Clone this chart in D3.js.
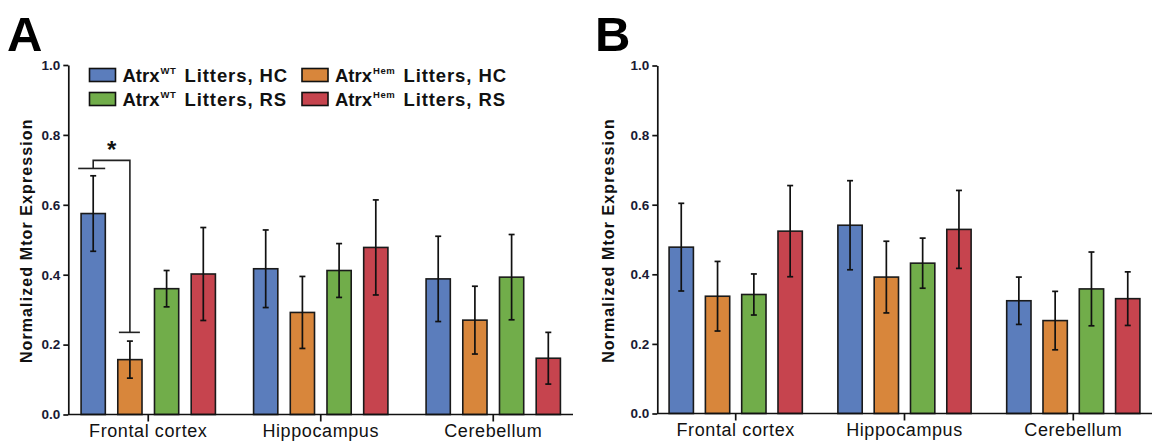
<!DOCTYPE html>
<html>
<head>
<meta charset="utf-8">
<script src="https://cdn.jsdelivr.net/npm/d3@7"></script>
<style>
  html, body { margin: 0; padding: 0; background: #fff; }
  svg { display: block; font-family: "Liberation Sans", Arial, sans-serif; }
</style>
</head>
<body>
<svg id="chart" width="1152" height="445"></svg>
<script>
// Brain regions on the x axis
const regions = ["Frontal cortex", "Hippocampus", "Cerebellum"];

// Groups: genotype superscript and housing condition
const groupKeys = ["wtHC", "hemHC", "wtRS", "hemRS"];
const groupGenotype = ["WT", "Hem", "WT", "Hem"];
const groupCondition = ["HC", "HC", "RS", "RS"];
const groupColors = ["#5b7dbc", "#d8863b", "#71ad4a", "#c6444e"];

// Panel A: mean normalized Mtor expression per region (rows) and group (columns)
const meansA = [
  [0.575, 0.157, 0.360, 0.402],
  [0.417, 0.292, 0.412, 0.478],
  [0.388, 0.270, 0.393, 0.161]
];
const errorsA = [
  [0.108, 0.053, 0.052, 0.133],
  [0.111, 0.103, 0.077, 0.136],
  [0.122, 0.097, 0.122, 0.074]
];

// Panel B: mean normalized Mtor expression per region and group
const meansB = [
  [0.478, 0.337, 0.342, 0.524],
  [0.541, 0.392, 0.432, 0.529],
  [0.324, 0.267, 0.358, 0.330]
];
const errorsB = [
  [0.126, 0.100, 0.059, 0.131],
  [0.128, 0.103, 0.072, 0.112],
  [0.068, 0.084, 0.106, 0.077]
];

const yTicks = [0.0, 0.2, 0.4, 0.6, 0.8, 1.0];
const yTitle = "Normalized Mtor Expression";

// Significance bracket in panel A (frontal cortex, WT HC vs Hem HC)
const sigTop = 0.727, sigLeftCap = 0.704, sigRightCap = 0.235, sigLabel = "*";

const svg = d3.select("#chart");

function drawPanel(cfg) {
  const g = svg.append("g");
  const y = d3.scaleLinear().domain([0, 1]).range([cfg.yBottom, cfg.yTop]);
  const x0 = d3.scaleBand().domain(regions).range(cfg.xRange).padding(0);
  const inner = cfg.innerStep * groupKeys.length;
  const x1 = d3.scaleBand().domain(groupKeys).range([-inner / 2, inner / 2])
    .paddingInner(cfg.innerPad).paddingOuter(cfg.innerPad / 2);

  // panel letter
  g.append("text").attr("x", cfg.letterX).attr("y", 51)
    .attr("font-size", 49).attr("font-weight", "bold").attr("fill", "#000")
    .text(cfg.letter);

  // bars
  const cells = [];
  regions.forEach((r, i) => groupKeys.forEach((k, j) => {
    cells.push({ region: r, key: k, color: groupColors[j], mean: cfg.means[i][j], err: cfg.errors[i][j] });
  }));
  const cx = d => x0(d.region) + x0.bandwidth() / 2 + x1(d.key) + x1.bandwidth() / 2;

  g.selectAll("rect.bar").data(cells).join("rect").attr("class", "bar")
    .attr("x", d => cx(d) - x1.bandwidth() / 2)
    .attr("width", x1.bandwidth())
    .attr("y", d => y(d.mean))
    .attr("height", d => y(0) - y(d.mean))
    .attr("fill", d => d.color)
    .attr("stroke", "#1a1a1a").attr("stroke-width", 1.6);

  // error bars
  const eb = g.selectAll("g.err").data(cells).join("g").attr("class", "err")
    .attr("stroke", "#111").attr("stroke-width", 1.7);
  eb.append("line").attr("x1", cx).attr("x2", cx)
    .attr("y1", d => y(d.mean + d.err)).attr("y2", d => y(d.mean - d.err));
  eb.append("line").attr("x1", d => cx(d) - 3).attr("x2", d => cx(d) + 3)
    .attr("y1", d => y(d.mean + d.err)).attr("y2", d => y(d.mean + d.err));
  eb.append("line").attr("x1", d => cx(d) - 3).attr("x2", d => cx(d) + 3)
    .attr("y1", d => y(d.mean - d.err)).attr("y2", d => y(d.mean - d.err));

  // y axis
  const yAxis = g.append("g").attr("transform", `translate(${cfg.axisX},0)`)
    .call(d3.axisLeft(y).tickValues(yTicks).tickFormat(d3.format(".1f"))
      .tickSize(5).tickSizeOuter(0).tickPadding(3));
  yAxis.select(".domain").attr("stroke", "#111").attr("stroke-width", 1.7);
  yAxis.selectAll(".tick line").attr("stroke", "#111").attr("stroke-width", 1.7);
  yAxis.selectAll(".tick text").attr("font-size", 13.5).attr("font-weight", "bold")
    .attr("font-family", "Liberation Sans, Arial, sans-serif").attr("fill", "#1a1a33");

  // x axis
  const xAxis = g.append("g").attr("transform", `translate(0,${cfg.yBottom})`)
    .call(d3.axisBottom(x0).tickSize(7).tickSizeOuter(0).tickPadding(4));
  xAxis.select(".domain").remove();
  xAxis.insert("line", ":first-child").attr("x1", cfg.axisX).attr("x2", cfg.axisEnd)
    .attr("y1", 0).attr("y2", 0).attr("stroke", "#111").attr("stroke-width", 1.7);
  xAxis.selectAll(".tick line").attr("stroke", "#111").attr("stroke-width", 1.7);
  xAxis.selectAll(".tick text").attr("font-size", 18).attr("dy", "0.64em")
    .attr("font-family", "Liberation Sans, Arial, sans-serif")
    .attr("letter-spacing", 0.6).attr("fill", "#111");

  // y title
  g.append("text")
    .attr("transform", `translate(${cfg.titleX},${(cfg.yTop + cfg.yBottom) / 2 + 1}) rotate(-90)`)
    .attr("text-anchor", "middle").attr("font-size", 16).attr("font-weight", "bold")
    .attr("letter-spacing", 1.1).attr("fill", "#111").text(yTitle);

  return { g, x0, x1, y, cx };
}

const A = drawPanel({
  letter: "A", letterX: 7, means: meansA, errors: errorsA,
  yTop: 65, yBottom: 414.5, xRange: [62, 579.5], innerStep: 36.7, innerPad: 0.34,
  axisX: 68.3, axisEnd: 573, titleX: 32
});
drawPanel({
  letter: "B", letterX: 595, means: meansB, errors: errorsB,
  yTop: 65.5, yBottom: 413.5, xRange: [651.3, 1157.7], innerStep: 36.3, innerPad: 0.33,
  axisX: 657.3, axisEnd: 1152, titleX: 614
});

// significance bracket between the first two groups of the first region
(function () {
  const { g, y, cx } = A;
  const left = cx({ region: regions[0], key: groupKeys[0] });
  const right = cx({ region: regions[0], key: groupKeys[1] });
  const b = g.append("g").attr("stroke", "#222").attr("stroke-width", 1.6).attr("fill", "none");
  b.append("path").attr("d",
    `M${left},${y(sigLeftCap)}V${y(sigTop)}H${right}V${y(sigRightCap)}`);
  b.append("line").attr("x1", left - 15).attr("x2", left + 12)
    .attr("y1", y(sigLeftCap)).attr("y2", y(sigLeftCap));
  b.append("line").attr("x1", right - 11).attr("x2", right + 10)
    .attr("y1", y(sigRightCap)).attr("y2", y(sigRightCap));
  g.append("text").attr("x", (left + right) / 2).attr("y", y(sigTop) - 2)
    .attr("text-anchor", "middle").attr("font-size", 24).attr("font-weight", "bold")
    .attr("fill", "#111").text(sigLabel);
})();

// legend
const legend = svg.append("g");
const legendCols = [89.5, 302];
const legendRows = [68.5, 92.5];
groupKeys.forEach((k, j) => {
  const col = groupGenotype[j] === "WT" ? 0 : 1;
  const row = groupCondition[j] === "HC" ? 0 : 1;
  const gx = legendCols[col], gy = legendRows[row];
  legend.append("rect").attr("x", gx).attr("y", gy).attr("width", 26).attr("height", 13)
    .attr("fill", groupColors[j]).attr("stroke", "#111").attr("stroke-width", 1.6);
  const t = legend.append("text").attr("x", gx + 33).attr("y", gy + 13)
    .attr("font-size", 18.5).attr("font-weight", "bold").attr("fill", "#111");
  t.append("tspan").text("Atrx");
  t.append("tspan").attr("font-size", 9.5).attr("dy", -7.5).attr("dx", 1)
    .attr("letter-spacing", 0.6).text(groupGenotype[j]);
  t.append("tspan").attr("dy", 7.5).attr("dx", 2).attr("letter-spacing", 0.9)
    .text(" Litters, " + groupCondition[j]);
});
</script>
</body>
</html>
